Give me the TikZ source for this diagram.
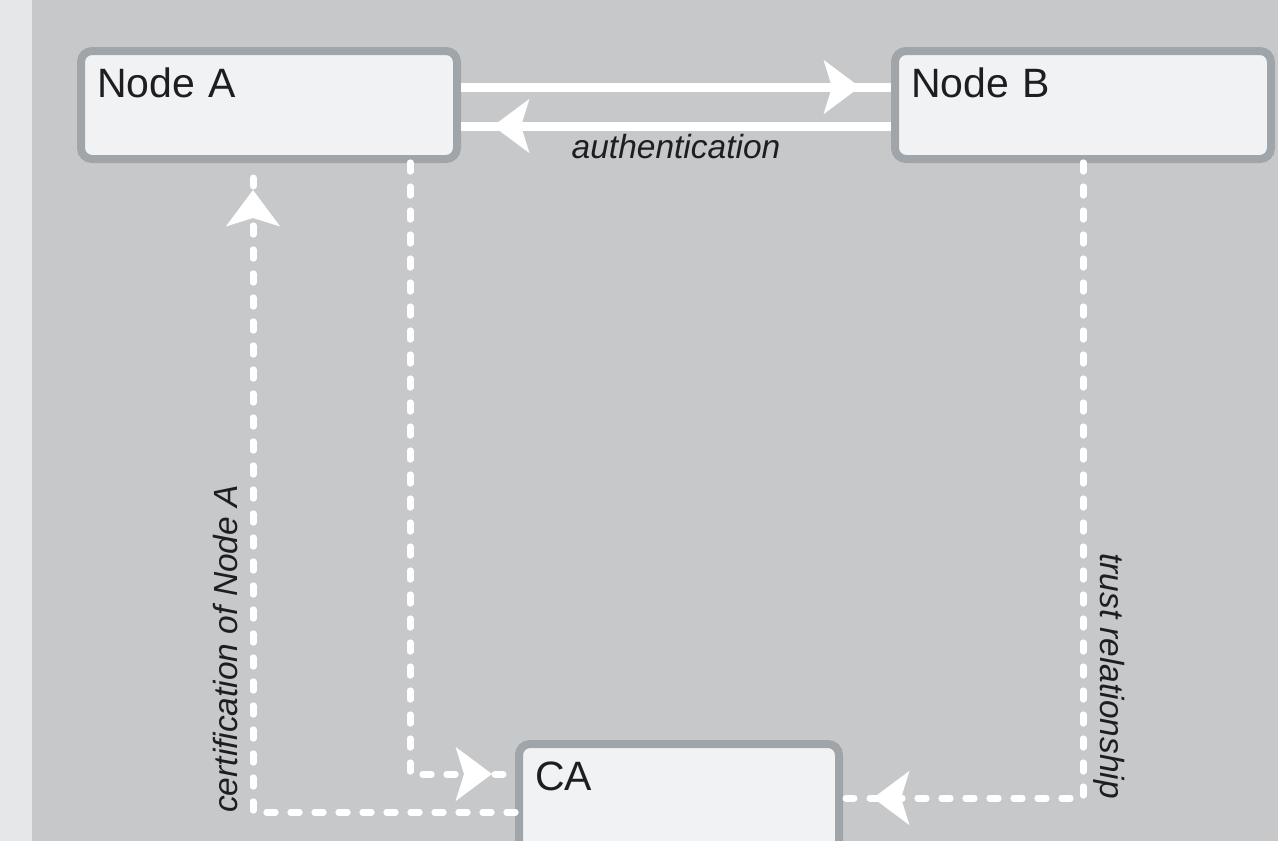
\documentclass[tikz,border=0pt]{standalone}
\usepackage{fontspec}
\setmainfont{Liberation Sans}
\usetikzlibrary{arrows.meta,calc}
\definecolor{bgmain}{RGB}{199,200,202}
\definecolor{bgstrip}{RGB}{230,231,232}
\definecolor{boxborder}{RGB}{160,165,170}
\definecolor{boxfill}{RGB}{241,242,244}
\definecolor{ink}{RGB}{30,30,32}
\tikzset{
  bigtip/.tip={Stealth[length=36pt,width=53pt,inset=8pt]},
  box/.style={draw=boxborder, line width=8pt, fill=boxfill, rounded corners=11pt,
    text=ink, font=\fontsize{41}{48}\selectfont, align=left,
    text width=344pt, inner xsep=16pt, inner ysep=0pt,
    text height=46pt, text depth=62pt, anchor=north west},
  conn/.style={draw=white, line width=9pt},
  dconn/.style={draw=white, line width=7pt, line cap=round, dash pattern=on 8pt off 16pt},
  lbl/.style={font=\itshape\fontsize{33.5}{40}\selectfont, text=ink, inner sep=0pt}
}
\begin{document}
\begin{tikzpicture}[x=1pt,y=-1pt]
\useasboundingbox (0,0) rectangle (1278,841);
\clip (0,0) rectangle (1278,841);
\fill[bgstrip] (0,0) rectangle (32,841);
\fill[bgmain] (32,0) rectangle (1278,841);

\node[box] (A) at (77,47) {Node A};
\node[box] (B) at (891,47) {Node B};
\node[box, text width=288pt] (CA) at (515,740) {CA};

% authentication arrows
\draw[conn] ([yshift=18pt]A.east) -- ([yshift=18pt]B.west);
\draw[conn,-bigtip,shorten >=31pt] ([yshift=18pt]A.east) -- ([yshift=18pt]B.west);
\draw[conn] ([yshift=-21pt]B.west) -- ([yshift=-21pt]A.east);
\draw[conn,-bigtip,shorten >=32pt] ([yshift=-21pt]B.west) -- ([yshift=-21pt]A.east);
\node[lbl, anchor=base] (auth) at ($(A.east)!0.5!(B.west)+(0,53)$) {authentication};

% certification of Node A (CA -> A)
\draw[dconn] ([yshift=-14pt]CA.west) -| ([xshift=-16pt]A.south);
\draw[dconn,-bigtip,shorten >=27pt] ([yshift=-14pt]CA.west) -| ([xshift=-16pt]A.south);

% A -> CA
\draw[dconn] ([xshift=141pt]A.south) |- ([yshift=24pt]CA.west);
\draw[dconn,-bigtip,shorten >=23pt] ([xshift=141pt]A.south) |- ([yshift=24pt]CA.west);

% trust relationship (B -> CA)
\draw[dconn] (B.south) |- (CA.east);
\draw[dconn,-bigtip,shorten >=30pt] (B.south) |- (CA.east);

\node[lbl, rotate=90, anchor=base west] (cert) at (237,813) {certification of Node A};
\node[lbl, rotate=-90, anchor=base west] (trust) at (1100,553) {trust relationship};
\end{tikzpicture}
\end{document}
